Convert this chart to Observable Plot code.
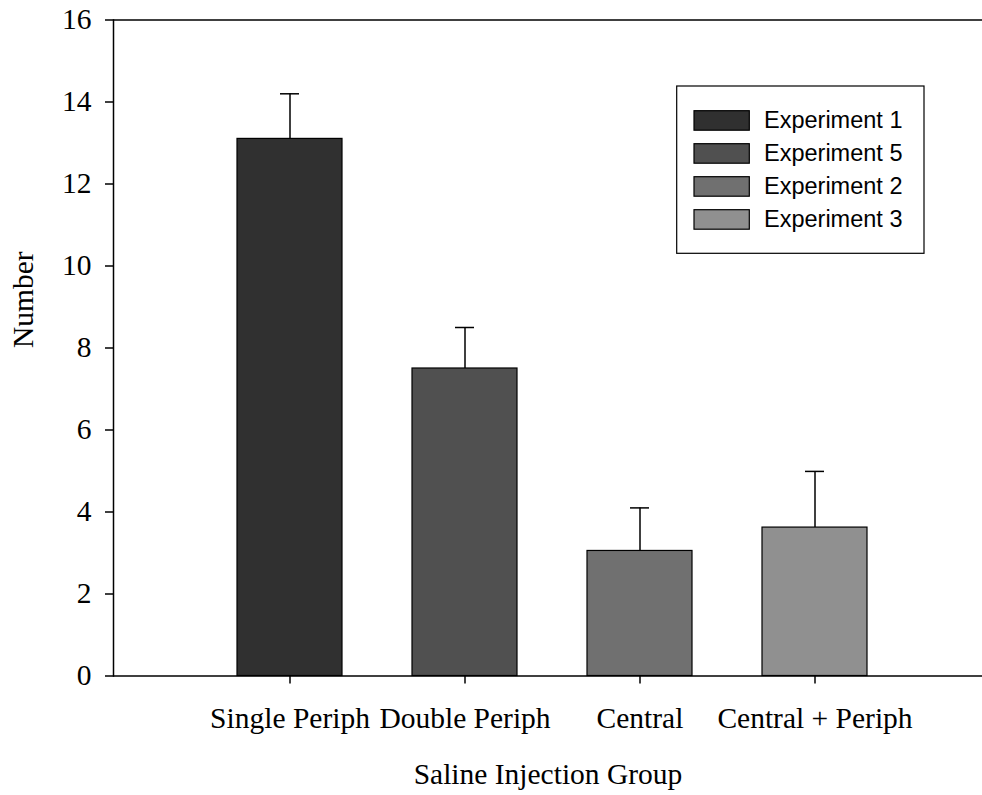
<!DOCTYPE html>
<html><head><meta charset="utf-8">
<script src="https://cdn.jsdelivr.net/npm/d3@7"></script>
<script src="https://cdn.jsdelivr.net/npm/@observablehq/plot@0.6"></script>
<style>body{margin:0;background:#fff}</style>
</head><body><div id="chart"></div>
<script>
const groups = ["Single Periph", "Double Periph", "Central", "Central + Periph"];
const experiments = ["Experiment 1", "Experiment 5", "Experiment 2", "Experiment 3"];
const means = [13.1, 7.5, 3.05, 3.62];
const errors = [1.1, 1.0, 1.05, 1.37];
const colors = ["#303030", "#505050", "#707070", "#909090"];
const yTicks = [0, 2, 4, 6, 8, 10, 12, 14, 16];
const xLabel = "Saline Injection Group";
const yLabel = "Number";

const data = groups.map((g, i) => ({group: g, experiment: experiments[i], mean: means[i], upper: means[i] + errors[i]}));

const serif = "'Liberation Serif', 'Times New Roman', serif";
const fs = 29.5;
const plot = Plot.plot({
  width: 982, height: 795,
  marginLeft: 113, marginRight: 0, marginTop: 19.5, marginBottom: 119.5,
  style: {fontFamily: serif, fontSize: fs + "px", color: "black", background: "white"},
  x: {type: "band", domain: groups, range: [236.7, 868.1], paddingInner: 0.4, paddingOuter: 0},
  y: {domain: [0, 16]},
  color: {domain: experiments, range: colors},
  marks: [
    Plot.barY(data, {x: "group", y: "mean", fill: "experiment", stroke: "black", strokeWidth: 1.2}),
    Plot.ruleX(data, {x: "group", y1: "mean", y2: "upper", stroke: "black", strokeWidth: 1.5}),
    Plot.tickY(data, {x: "group", y: "upper", insetLeft: 43, insetRight: 43, stroke: "black", strokeWidth: 1.5}),
    Plot.ruleY([0, 16], {stroke: "black", strokeWidth: 1.5}),
    Plot.frame({anchor: "left", stroke: "black", strokeWidth: 1.5}),
    Plot.axisY({ticks: yTicks, tickSize: 8, tickPadding: 14, tickFormat: d => String(d), label: null, strokeWidth: 1.5, fontSize: fs}),
    Plot.axisX({tickSize: 8, tickPadding: 23.5, label: null, strokeWidth: 1.5, fontSize: fs}),
    Plot.text([xLabel], {frameAnchor: "bottom", dy: 108, text: d => d, fontSize: fs}),
    Plot.text([yLabel], {frameAnchor: "left", dx: -89.5, rotate: -90, text: d => d, fontSize: fs})
  ]
});
document.getElementById("chart").appendChild(plot);

// legend
const svg = d3.select(plot);
const lg = svg.append("g").attr("font-family", "'Liberation Sans', Arial, sans-serif")
  .attr("font-size", 23.5).attr("text-anchor", "start");
lg.append("rect").attr("x", 676.7).attr("y", 86).attr("width", 247.3).attr("height", 167.3)
  .attr("fill", "white").attr("stroke", "black").attr("stroke-width", 1.2);
experiments.forEach((e, i) => {
  const y = 110.7 + i * 33;
  lg.append("rect").attr("x", 694).attr("y", y).attr("width", 55.3).attr("height", 19.5)
    .attr("fill", colors[i]).attr("stroke", "black").attr("stroke-width", 1.2);
  lg.append("text").attr("x", 764).attr("y", y + 9.75).attr("dominant-baseline", "central")
    .attr("text-anchor", "start").attr("fill", "black").text(e);
});
</script>
</body></html>
